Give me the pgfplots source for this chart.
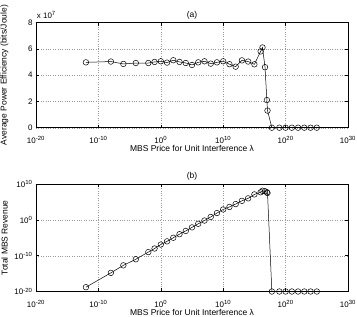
\documentclass[border=0pt]{standalone}
\usepackage{fontspec}
\setmainfont{Liberation Sans}
\usepackage{pgfplots}
\pgfplotsset{compat=1.18}
\pgfplotsset{
  every axis/.append style={
    scale only axis, width=312bp,
    tick align=inside, major tick length=3bp,
    grid=major, major grid style={black!40, dotted, line width=0.3pt},
    axis line style={line width=0.5pt},
    every tick/.style={line width=0.4pt, black},
    tick label style={font=\fontsize{8}{9}\selectfont},
    xticklabel style={yshift=-5.5bp},
    label style={font=\fontsize{8.5}{10}\selectfont},
    title style={font=\fontsize{8.5}{10}\selectfont},
    clip=false,
  },
  every axis x label/.style={at={(axis description cs:0.5,0)}, yshift=-23.5bp, anchor=base},
  every axis y label/.style={at={(axis description cs:0,0.5)}, xshift=-31.5bp, rotate=90, anchor=center},
  every axis title/.style={at={(axis description cs:0.5,1)}, yshift=5.3bp, anchor=base},
}
\begin{document}
\begin{tikzpicture}
\useasboundingbox (0bp,0bp) rectangle (357bp,317bp);
\begin{axis}[at={(36bp,189.3bp)}, anchor=south west, height=105.2bp,
  xmode=log, xmin=1e-20, xmax=1e30,
  xtick={1e-20,1e-10,1,1e10,1e20,1e30},
  xticklabels={10\textsuperscript{-20},10\textsuperscript{-10},10\textsuperscript{0},10\textsuperscript{10},10\textsuperscript{20},10\textsuperscript{30}},
  xlabel={MBS Price for Unit Interference λ},
  ymin=0, ymax=8, ytick={0,2,4,6,8}, yticklabels={0,2,4,6,8},
  title={(a)}, ylabel={Average Power Efficiency (bits/Joule)}]
\addplot[black, line width=0.5pt, mark=o, mark size=2.8bp] coordinates {
(1e-12,4.97) (1e-8,5.03) (1e-6,4.85) (1e-4,4.92) (1e-2,4.92) (1e-1,5.00)
(1,5.05) (1e1,4.95) (1e2,5.13) (1e3,5.00) (1e4,4.92) (1e5,4.77)
(1e6,4.97) (1e7,5.05) (1e8,4.87) (1e9,4.97) (1e10,5.05) (1e11,4.83)
(1e12,4.64) (1e13,5.12) (1e14,5.03) (1e15,4.82) (1e16,5.80) (2e16,6.10)
(5e16,4.60) (1e17,2.10) (1.26e17,1.30) (6.3e17,0) (1e19,0) (1e20,0)
(1e21,0) (1e22,0) (1e23,0) (1e24,0) (1e25,0)
};
\node[anchor=base west, inner sep=0, font=\fontsize{8}{9}\selectfont] at (rel axis cs:0,1) [xshift=0.7bp,yshift=3.7bp] {x 10\textsuperscript{7}};
\end{axis}
\begin{axis}[at={(36bp,25.5bp)}, anchor=south west, height=107.5bp,
  xmode=log, xmin=1e-20, xmax=1e30,
  xtick={1e-20,1e-10,1,1e10,1e20,1e30},
  xticklabels={10\textsuperscript{-20},10\textsuperscript{-10},10\textsuperscript{0},10\textsuperscript{10},10\textsuperscript{20},10\textsuperscript{30}},
  xlabel={MBS Price for Unit Interference λ},
  ymode=log, ymin=1e-20, ymax=1e10, ytick={1e-20,1e-10,1,1e10},
  yticklabels={10\textsuperscript{-20},10\textsuperscript{-10},10\textsuperscript{0},10\textsuperscript{10}},
  title={(b)}, ylabel={Total MBS Revenue}]
\addplot[black, line width=0.5pt, mark=o, mark size=2.8bp] coordinates {
(1e-12,1.585e-19) (1e-8,1.585e-15) (1e-6,2.0e-13) (1e-4,1e-11) (1e-2,1e-9) (1e-1,1e-8)
(1,1.26e-7) (1e1,1e-6) (1e2,1e-5) (1e3,1e-4) (1e4,7.9e-4) (1e5,7.9e-3)
(1e6,0.079) (1e7,0.63) (1e8,6.3) (1e9,79) (1e10,794) (1e11,3981)
(1e12,2.5e4) (1e13,2e5) (1e14,1e6) (1e15,1.26e7) (1e16,5e7) (2e16,1.26e8)
(5e16,1e8) (1e17,5e7) (1.26e17,3.16e7) (6.3e17,1e-20) (1e19,1e-20) (1e20,1e-20)
(1e21,1e-20) (1e22,1e-20) (1e23,1e-20) (1e24,1e-20) (1e25,1e-20)
};
\end{axis}
\end{tikzpicture}
\end{document}
